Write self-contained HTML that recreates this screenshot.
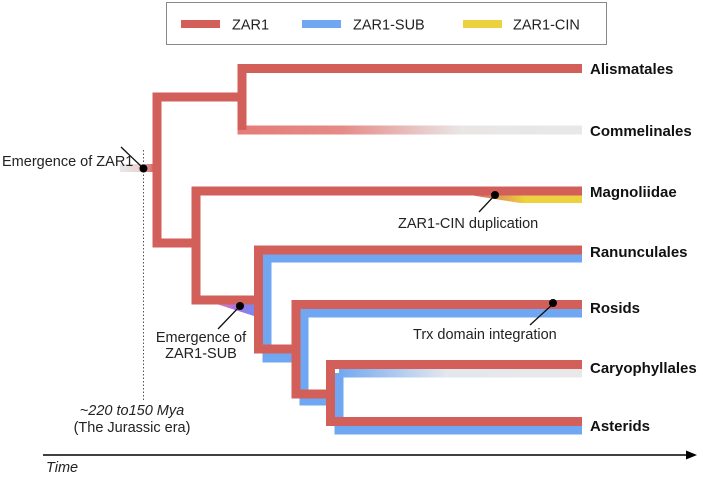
<!DOCTYPE html>
<html><head><meta charset="utf-8"><style>
html,body{margin:0;padding:0;background:#fff;}
svg{display:block;font-family:"Liberation Sans",Arial,sans-serif;}
</style></head><body>
<svg width="703" height="477" viewBox="0 0 703 477" xmlns="http://www.w3.org/2000/svg">
<defs>
<linearGradient id="com" x1="237" x2="582" y1="0" y2="0" gradientUnits="userSpaceOnUse">
<stop offset="0" stop-color="#e57c78"/><stop offset="0.3" stop-color="#e58a86"/><stop offset="0.65" stop-color="#e9e6e6"/><stop offset="1" stop-color="#e8e8e8"/></linearGradient>
<linearGradient id="car" x1="335" x2="582" y1="0" y2="0" gradientUnits="userSpaceOnUse">
<stop offset="0" stop-color="#6ea6f0"/><stop offset="0.45" stop-color="#e3e7ee"/><stop offset="1" stop-color="#e8e8e8"/></linearGradient>
<linearGradient id="root" x1="120" x2="155" y1="0" y2="0" gradientUnits="userSpaceOnUse">
<stop offset="0" stop-color="#e8e8e8"/><stop offset="0.5" stop-color="#ead6d6"/><stop offset="1" stop-color="#d45f5a"/></linearGradient>
<linearGradient id="yel" x1="480" x2="525" y1="0" y2="0" gradientUnits="userSpaceOnUse">
<stop offset="0" stop-color="#d9705f"/><stop offset="1" stop-color="#ecd23e"/></linearGradient>
<linearGradient id="sub" x1="218" x2="258" y1="0" y2="0" gradientUnits="userSpaceOnUse">
<stop offset="0" stop-color="#e07fb0"/><stop offset="0.5" stop-color="#a070e8"/><stop offset="1" stop-color="#6f90f0"/></linearGradient>
</defs>
<rect x="166.5" y="2.5" width="440" height="42" fill="#fff" stroke="#888" stroke-width="1"/>
<rect x="181" y="20" width="39" height="8" fill="#d35f5a"/>
<text x="232" y="29.5" font-size="14.5" fill="#222">ZAR1</text>
<rect x="302" y="20" width="39" height="8" fill="#6fa7f2"/>
<text x="353" y="29.5" font-size="14.5" fill="#222">ZAR1-SUB</text>
<rect x="463" y="20" width="39" height="8" fill="#ecd23e"/>
<text x="513" y="29.5" font-size="14.5" fill="#222">ZAR1-CIN</text>

<line x1="143.5" y1="150" x2="143.5" y2="400" stroke="#555" stroke-width="1" stroke-dasharray="1.5,2"/>
<rect x="120" y="164" width="34" height="8" fill="url(#root)"/>

<g fill="none" stroke-width="9" stroke-linejoin="miter" stroke-linecap="butt">
<polyline points="582,258 267,258 267,358 300,358" stroke="#6fa7f2"/>
<polyline points="582,313 304,313 304,401 335,401" stroke="#6fa7f2"/>
<polyline points="339,373 339,430 582,430" stroke="#6fa7f2"/>
<line x1="339" y1="373" x2="582" y2="373" stroke="url(#car)"/>
<line x1="237.5" y1="130" x2="582" y2="130" stroke="url(#com)"/>
</g>
<polygon points="470,195 520,195 582,195 582,203 520,203" fill="url(#yel)"/>
<g fill="none" stroke-width="9" stroke-linejoin="miter" stroke-linecap="butt">
<polyline points="582,68.5 242,68.5 242,130" stroke="#d35f5a"/>
<polyline points="242,97 157,97 157,243 196,243" stroke="#d35f5a"/>
<polyline points="582,191 196,191 196,300 258.5,300" stroke="#d35f5a"/>
<polyline points="582,250 258.5,250 258.5,349 296,349" stroke="#d35f5a"/>
<polyline points="582,304.5 296,304.5 296,394 330.5,394" stroke="#d35f5a"/>
<polyline points="582,364.5 330.5,364.5 330.5,421.5 582,421.5" stroke="#d35f5a"/>
</g>
<polygon points="218,304.5 254,304.5 254,316" fill="url(#sub)"/>

<g stroke="#111" stroke-width="1.3">
<line x1="121" y1="147" x2="143" y2="168"/>
<line x1="240" y1="306" x2="218" y2="329"/>
<line x1="495" y1="195" x2="479" y2="212"/>
<line x1="553" y1="304" x2="530" y2="325"/>
</g>
<g fill="#000">
<circle cx="143.5" cy="168.5" r="4"/>
<circle cx="240" cy="306" r="4"/>
<circle cx="495" cy="195" r="4"/>
<circle cx="553" cy="303" r="4"/>
</g>
<g font-size="14.5" fill="#222">
<text x="2" y="166">Emergence of ZAR1</text>
<text x="201" y="342" text-anchor="middle">Emergence of</text>
<text x="201" y="358" text-anchor="middle">ZAR1-SUB</text>
<text x="398" y="228">ZAR1-CIN duplication</text>
<text x="413" y="339">Trx domain integration</text>
<text x="132" y="415" text-anchor="middle" font-style="italic">~220 to150  Mya</text>
<text x="132" y="432" text-anchor="middle">(The Jurassic era)</text>
<text x="46" y="472" font-style="italic">Time</text>
</g>
<g font-size="15" font-weight="bold" fill="#111">
<text x="590" y="74">Alismatales</text>
<text x="590" y="136">Commelinales</text>
<text x="590" y="197">Magnoliidae</text>
<text x="590" y="257">Ranunculales</text>
<text x="590" y="313">Rosids</text>
<text x="590" y="373">Caryophyllales</text>
<text x="590" y="431">Asterids</text>
</g>
<line x1="43" y1="455" x2="690" y2="455" stroke="#000" stroke-width="1.5"/>
<polygon points="697,455 686,450.5 686,459.5" fill="#000"/>
</svg>
</body></html>
